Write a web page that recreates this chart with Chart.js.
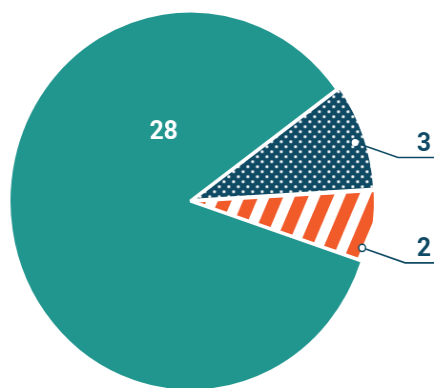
<!DOCTYPE html>
<html>
<head>
<meta charset="utf-8">
<script src="https://cdn.jsdelivr.net/npm/chart.js@4.4.1/dist/chart.umd.min.js"></script>
<style>
html, body { margin: 0; padding: 0; background: #ffffff; overflow: hidden; }
/* the pie is drawn slightly narrower than tall */
#wrap { width: 455px; height: 388px; transform: scaleX(0.9538); transform-origin: 0 0; }
</style>
</head>
<body>
<div id="wrap"><canvas id="pie" width="455" height="388"></canvas></div>
<script>
// Slice data.
var categories = [ 'Group A', 'Group B', 'Group C' ];
var values     = [ 28, 3, 2 ];

var TEAL   = '#21968f';
var NAVY   = '#0f4a64';
var ORANGE = '#f15a29';

// White dots on navy.
function dotPattern() {
	var c = document.createElement( 'canvas' );
	c.width = 10;
	c.height = 10;
	var g = c.getContext( '2d' );
	g.fillStyle = NAVY;
	g.fillRect( 0, 0, 10, 10 );
	g.fillStyle = '#ffffff';
	[ [ 2.5, 2.5 ], [ 7.5, 7.5 ] ].forEach( function ( p ) {
		g.beginPath();
		g.arc( p[ 0 ], p[ 1 ], 1.55, 0, Math.PI * 2 );
		g.fill();
	} );
	return g.createPattern( c, 'repeat' );
}

// Slanted orange stripes on white.
function stripePattern() {
	var c = document.createElement( 'canvas' );
	c.width = 24;
	c.height = 4;
	var g = c.getContext( '2d' );
	g.fillStyle = '#ffffff';
	g.fillRect( 0, 0, 24, 4 );
	g.fillStyle = ORANGE;
	g.fillRect( 0, 0, 13, 4 );
	var pat = g.createPattern( c, 'repeat' );
	pat.setTransform( new DOMMatrix().rotateSelf( 24 ) );
	return pat;
}

// Value labels: one inside the big slice, callouts for the small ones.
var sliceLabels = {
	id: 'sliceLabels',
	afterDatasetsDraw: function ( chart ) {
		var ctx  = chart.ctx;
		var arcs = chart.getDatasetMeta( 0 ).data;

		function at( arc, frac, rad ) {
			var ang = arc.startAngle + ( arc.endAngle - arc.startAngle ) * frac;
			return {
				x: arc.x + Math.cos( ang ) * arc.outerRadius * rad,
				y: arc.y + Math.sin( ang ) * arc.outerRadius * rad,
			};
		}

		ctx.save();
		ctx.font = 'bold 26px Roboto, "Liberation Sans", sans-serif';

		var p = at( arcs[ 0 ], 0.751, 0.39 );
		ctx.fillStyle = '#ffffff';
		ctx.textAlign = 'center';
		ctx.textBaseline = 'middle';
		ctx.fillText( String( values[ 0 ] ), p.x, p.y );

		var callouts = [
			{ index: 1, frac: 0.53, rad: 0.96, hollow: false },
			{ index: 2, frac: 0.82, rad: 0.98, hollow: true },
		];

		callouts.forEach( function ( c ) {
			var m     = at( arcs[ c.index ], c.frac, c.rad );
			var elbow = { x: m.x + 45, y: m.y + 15 };

			ctx.strokeStyle = NAVY;
			ctx.lineWidth = 1.6;
			ctx.beginPath();
			ctx.moveTo( m.x, m.y );
			ctx.lineTo( elbow.x, elbow.y );
			ctx.lineTo( chart.width, elbow.y );
			ctx.stroke();

			ctx.beginPath();
			ctx.arc( m.x, m.y, 3.6, 0, Math.PI * 2 );
			ctx.fillStyle = '#ffffff';
			ctx.fill();
			if ( c.hollow ) {
				ctx.lineWidth = 1.5;
				ctx.stroke();
			}

			ctx.fillStyle = NAVY;
			ctx.textAlign = 'right';
			ctx.textBaseline = 'alphabetic';
			ctx.fillText( String( values[ c.index ] ), chart.width - 3, elbow.y - 7 );
		} );

		ctx.restore();
	},
};

new Chart( document.getElementById( 'pie' ), {
	type: 'pie',
	data: {
		labels: categories,
		datasets: [
			{
				data: values,
				backgroundColor: [ TEAL, dotPattern(), stripePattern() ],
				borderColor: '#ffffff',
				borderWidth: 3,
				// arc offsets are quartered when drawn
				offset: [ 0, 10, 10 ],
			},
		],
	},
	plugins: [ sliceLabels ],
	options: {
		responsive: false,
		animation: false,
		events: [],
		rotation: 108.5,
		radius: 190,
		layout: {
			padding: { left: 0, right: 56, top: 14, bottom: 0 },
		},
		plugins: {
			legend: { display: false },
			tooltip: { enabled: false },
		},
	},
} );
</script>
</body>
</html>
